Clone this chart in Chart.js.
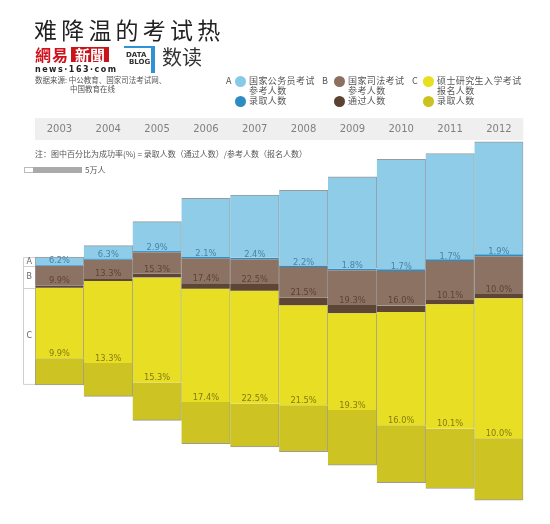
<!DOCTYPE html>
<html><head><meta charset="utf-8">
<script src="https://cdn.jsdelivr.net/npm/chart.js@4.4.1/dist/chart.umd.min.js"></script>
<style>
html,body{margin:0;padding:0;background:#fff;}
body{width:550px;height:524px;position:relative;overflow:hidden;font-family:"Noto Sans CJK SC","Noto Sans",sans-serif;}
canvas{position:absolute;left:0;top:0;}
.t{position:absolute;white-space:nowrap;line-height:1;}
.dot{position:absolute;width:11px;height:11px;border-radius:50%;}
.lg{font-size:9px;color:#555;letter-spacing:0.4px;line-height:10px;}
</style>
</head><body>
<canvas id="c" width="550" height="524"></canvas>

<div class="t" style="left:34px;top:18px;font-size:23px;letter-spacing:4.2px;color:#222;">难降温的考试热</div>

<div class="t" style="left:35px;top:46px;font-size:16px;font-weight:700;color:#d0111b;letter-spacing:1px;font-family:'Noto Sans CJK TC';">網易</div>
<div class="t" style="left:71px;top:47px;width:38px;height:15px;background:#c8141b;color:#fff;font-size:15px;line-height:15px;text-align:center;font-weight:700;font-family:'Noto Sans CJK TC';">新聞</div>
<div class="t" style="left:35px;top:66px;font-size:8px;font-weight:700;color:#222;letter-spacing:1.5px;font-family:'DejaVu Sans';">news·163·com</div>

<div style="position:absolute;left:124px;top:46px;width:27px;height:25px;border-top:2px solid #2f92d6;border-right:4px solid #2f92d6;"></div>
<div class="t" style="left:126px;top:52px;font-size:7px;font-weight:700;color:#333;font-family:'DejaVu Sans';">DATA</div>
<div class="t" style="left:129px;top:59px;font-size:7px;font-weight:700;color:#333;font-family:'DejaVu Sans';">BLOG</div>
<div class="t" style="left:162px;top:47px;font-size:20px;color:#333;">数读</div>

<div class="t" style="left:35px;top:75.5px;font-size:7.5px;color:#555;">数据来源: 中公教育、国家司法考试网、</div>
<div class="t" style="left:70px;top:85px;font-size:7.5px;color:#555;">中国教育在线</div>

<!-- legend -->
<div class="t lg" style="left:226px;top:76px;">A</div>
<div class="dot" style="left:235px;top:75.5px;background:#86c9e8;"></div>
<div class="t lg" style="left:249px;top:76px;">国家公务员考试<br>参考人数</div>
<div class="dot" style="left:235px;top:95.5px;background:#2c8cc2;"></div>
<div class="t lg" style="left:249px;top:96px;">录取人数</div>

<div class="t lg" style="left:322px;top:76px;">B</div>
<div class="dot" style="left:334px;top:75.5px;background:#8c6f5f;"></div>
<div class="t lg" style="left:348px;top:76px;">国家司法考试<br>参考人数</div>
<div class="dot" style="left:334px;top:95.5px;background:#5b4131;"></div>
<div class="t lg" style="left:348px;top:96px;">通过人数</div>

<div class="t lg" style="left:412px;top:76px;">C</div>
<div class="dot" style="left:423px;top:75.5px;background:#e8df1e;"></div>
<div class="t lg" style="left:437px;top:76px;">硕士研究生入学考试<br>报名人数</div>
<div class="dot" style="left:423px;top:95.5px;background:#ccc21f;"></div>
<div class="t lg" style="left:437px;top:96px;">录取人数</div>

<div class="t" style="left:35px;top:150px;font-size:8px;color:#555;">注：图中百分比为成功率(%) = 录取人数（通过人数）/参考人数（报名人数）</div>
<div style="position:absolute;left:24px;top:167px;width:8px;height:4px;border:1px solid #bbb;background:#fff;"></div>
<div style="position:absolute;left:33px;top:167px;width:49px;height:6px;background:#aaa;"></div>
<div class="t" style="left:85px;top:166px;font-size:8px;color:#555;">5万人</div>

<script>
// values in 万人 (10,000 people)
const years = ['2003','2004','2005','2006','2007','2008','2009','2010','2011','2012'];
const civilTakers   = [7.1, 11.5, 25.2, 49.2, 52.7, 62.9, 76.5, 91.6, 88.1, 93.7];
const civilHired    = [0.5, 0.8, 0.8, 1.0, 1.2, 1.3, 1.3, 1.4, 1.4, 1.5];
const lawTakers     = [18.0, 17.6, 20.7, 24.9, 25.7, 31.4, 35.3, 33.6, 35.5, 34.4];
const lawPassed     = [1.7, 2.3, 3.0, 4.5, 5.5, 6.5, 6.8, 5.3, 3.5, 3.4];
const gradApplicants= [79.7, 94.5, 117.2, 127.1, 128.2, 120.0, 124.6, 140.0, 151.1, 165.6];
const gradAdmitted  = [21.9, 27.3, 31.2, 34.1, 35.6, 38.1, 45.3, 47.1, 49.2, 50.8];
const civilRate = ['6.2%','6.3%','2.9%','2.1%','2.4%','2.2%','1.8%','1.7%','1.7%','1.9%'];
const lawRate   = ['9.9%','13.3%','15.3%','17.4%','22.5%','21.5%','19.3%','16.0%','10.1%','10.0%'];
const gradRate  = ['9.9%','13.3%','15.3%','17.4%','22.5%','21.5%','19.3%','16.0%','10.1%','10.0%'];

// centred (silhouette) stacking
const total = years.map((_, i) => civilTakers[i] + lawTakers[i] + gradApplicants[i]);
const aTop = total.map(t => t / 2);
const aLow = aTop.map((v, i) => v - civilTakers[i]);
const bLow = aLow.map((v, i) => v - lawTakers[i]);
const cLow = bLow.map((v, i) => v - gradApplicants[i]);

const GRAY = '#9a9a9a';
function bw(extra) {
  return ctx => Object.assign({left: ctx.dataIndex === 0 ? 1 : 0, right: 1, top: 0, bottom: 0}, extra || {});
}
const ds = [
  {data: years.map((_, i) => [aLow[i] + civilHired[i], aTop[i]]), backgroundColor: '#8ecce8', borderWidth: bw({top: 1})},
  {data: years.map((_, i) => [aLow[i], aLow[i] + civilHired[i]]), backgroundColor: '#2d8cc4', borderWidth: bw(), minBarLength: 1.5},
  {data: years.map((_, i) => [bLow[i] + lawPassed[i], aLow[i]]), backgroundColor: '#8c7263', borderWidth: bw()},
  {data: years.map((_, i) => [bLow[i], bLow[i] + lawPassed[i]]), backgroundColor: '#5e4637', borderWidth: bw()},
  {data: years.map((_, i) => [cLow[i] + gradAdmitted[i], bLow[i]]), backgroundColor: '#e8df24', borderWidth: bw()},
  {data: years.map((_, i) => [cLow[i], cLow[i] + gradAdmitted[i]]), backgroundColor: '#cdc323', borderWidth: bw({bottom: 1})}
];
ds.forEach(d => { d.borderColor = GRAY; d.borderSkipped = false; d.grouped = false; d.barPercentage = 1; d.categoryPercentage = 1; });

const overlay = {
  id: 'overlay',
  beforeDraw(chart) {
    const c = chart.ctx, x = chart.scales.x, a = chart.chartArea;
    c.save();
    c.fillStyle = '#efefef';
    c.fillRect(a.left, 118, a.right - a.left, 22);
    c.fillStyle = '#808080';
    c.font = '10px "DejaVu Sans"';
    c.textAlign = 'center'; c.textBaseline = 'middle';
    years.forEach((yr, i) => c.fillText(yr, x.getPixelForValue(i), 129.5));
    c.restore();
  },
  afterDatasetsDraw(chart) {
    const c = chart.ctx, x = chart.scales.x, y = chart.scales.y, a = chart.chartArea;
    c.save();
    c.font = '8.3px "DejaVu Sans"';
    c.textAlign = 'center'; c.textBaseline = 'middle';
    years.forEach((_, i) => {
      const px = x.getPixelForValue(i);
      c.fillStyle = '#4a83a8';
      c.fillText(civilRate[i], px, y.getPixelForValue(aLow[i]) - 4.5);
      c.fillStyle = '#5c4436';
      c.fillText(lawRate[i], px, y.getPixelForValue(bLow[i] + lawPassed[i]) - 4.5);
      c.fillStyle = '#857a14';
      c.fillText(gradRate[i], px, y.getPixelForValue(cLow[i] + gradAdmitted[i]) - 4.5);
    });
    // A/B/C key box at the left of the first column
    const y0 = y.getPixelForValue(aTop[0]), y1 = y.getPixelForValue(aLow[0]),
          y2 = y.getPixelForValue(bLow[0]), y3 = y.getPixelForValue(cLow[0]);
    const xl = 23.5, xr = a.left;
    c.strokeStyle = '#cfcfcf'; c.lineWidth = 1;
    c.beginPath();
    c.moveTo(xr, y0 + 0.5); c.lineTo(xl, y0 + 0.5); c.lineTo(xl, y3 - 0.5); c.lineTo(xr, y3 - 0.5);
    c.moveTo(xl, Math.round(y1) + 0.5); c.lineTo(xr, Math.round(y1) + 0.5);
    c.moveTo(xl, Math.round(y2) + 0.5); c.lineTo(xr, Math.round(y2) + 0.5);
    c.stroke();
    c.fillStyle = '#666';
    c.font = '8px "DejaVu Sans"';
    const xm = (xl + xr) / 2;
    c.fillText('A', xm, (y0 + y1) / 2);
    c.fillText('B', xm, (y1 + y2) / 2);
    c.fillText('C', xm, (y2 + y3) / 2);
    c.restore();
  }
};

new Chart(document.getElementById('c'), {
  type: 'bar',
  data: {labels: years, datasets: ds},
  options: {
    responsive: false, animation: false, devicePixelRatio: 1,
    layout: {padding: {left: 35, right: 26.7, top: 141, bottom: 23}},
    plugins: {legend: {display: false}, tooltip: {enabled: false}},
    scales: {
      x: {display: false},
      y: {display: false, min: -147.6, max: 147.6}
    }
  },
  plugins: [overlay]
});
</script>
</body></html>
